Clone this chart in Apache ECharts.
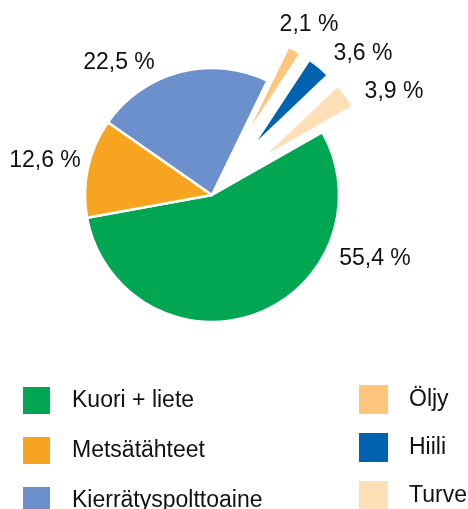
<!DOCTYPE html>
<html>
<head>
<meta charset="utf-8">
<style>
  html, body { margin: 0; padding: 0; background: #fff; }
  #chart { width: 468px; height: 509px; }
</style>
<script src="https://cdn.jsdelivr.net/npm/echarts@6/dist/echarts.min.js"></script>
</head>
<body>
<div id="chart"></div>
<script>
  // data
  const names = ['Kuori + liete', 'Metsätähteet', 'Kierrätyspolttoaine', 'Öljy', 'Hiili', 'Turve'];
  const shares = [55.4, 12.6, 22.5, 2.1, 3.6, 3.9];
  const exploded = [false, false, false, true, true, true];

  const colors = ['#00a651', '#f7a520', '#6b90cb', '#fec57b', '#0063b0', '#fedfb6'];
  // label centres (pixel), by data index
  const labelPos = [[375, 259], [45, 161], [119, 63], [309, 25], [363, 54], [394, 92]];

  const fmt = v => v.toFixed(1).replace('.', ',') + ' %';
  const font = 'Liberation Sans, Arial, Helvetica, sans-serif';

  // main series carries every label; exploded slices are drawn by the second series
  function sliceData(showExploded, withLabels) {
    return names.map((n, i) => {
      const visible = exploded[i] === showExploded;
      return {
        name: n,
        value: shares[i],
        selected: showExploded && visible,
        itemStyle: visible
          ? { color: colors[i], borderColor: '#fff', borderWidth: 2.5 }
          : { color: 'transparent', borderWidth: 0 },
        label: { show: withLabels }
      };
    });
  }

  function placeLabel(p) {
    const pos = labelPos[p.dataIndex];
    return { x: pos[0], y: pos[1], align: 'center', verticalAlign: 'middle', hideOverlap: false };
  }

  const baseSeries = {
    type: 'pie',
    center: [212, 195],
    startAngle: 29.6,
    clockwise: true,
    silent: true,
    animation: false,
    avoidLabelOverlap: false,
    emphasis: { disabled: true },
    label: {
      position: 'outside',
      formatter: p => fmt(p.value),
      fontFamily: font,
      fontSize: 23,
      color: '#111'
    },
    labelLine: { show: false },
    labelLayout: placeLabel
  };

  const legendBase = {
    orient: 'vertical',
    top: 385,
    height: 200,
    padding: 0,
    selectedMode: false,
    icon: 'rect',
    itemWidth: 29,
    itemHeight: 29,
    itemGap: 19,
    textStyle: { fontFamily: font, fontSize: 23, color: '#111', padding: [0, 0, 0, 16] }
  };

  const chart = echarts.init(document.getElementById('chart'));
  chart.setOption({
    backgroundColor: '#fff',
    legend: [
      Object.assign({}, legendBase, {
        left: 21,
        data: names.slice(0, 3).map((n, i) => ({ name: n, itemStyle: { color: colors[i] } }))
      }),
      Object.assign({}, legendBase, {
        left: 359,
        data: names.slice(3).map((n, i) => ({ name: n, itemStyle: { color: colors[i + 3] } }))
      })
    ],
    series: [
      Object.assign({}, baseSeries, {
        name: 'main',
        radius: [0, 127],
        data: sliceData(false, true)
      }),
      Object.assign({}, baseSeries, {
        name: 'exploded',
        radius: [0, 107],
        selectedMode: 'multiple',
        selectedOffset: 60,
        select: { itemStyle: {} },
        labelLayout: null,
        data: sliceData(true, false)
      })
    ]
  });
</script>
</body>
</html>
